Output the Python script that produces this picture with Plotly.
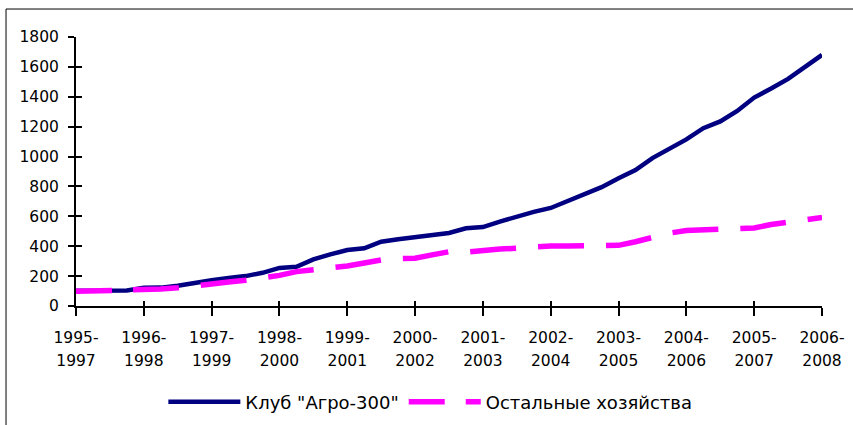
import plotly.graph_objects as go

categories = ["1995-1997", "1996-1998", "1997-1999", "1998-2000", "1999-2001", "2000-2002",
              "2001-2003", "2002-2004", "2003-2005", "2004-2006", "2005-2007", "2006-2008"]

# position of each observation on the category axis (quarterly steps between the labelled periods)
period_pos = [0, 0.25, 0.5, 0.75, 1, 1.25, 1.5, 1.75, 2, 2.25, 2.5, 2.75, 3, 3.25, 3.5, 3.75,
              4, 4.25, 4.5, 4.75, 5, 5.25, 5.5, 5.75, 6, 6.25, 6.5, 6.75, 7, 7.25, 7.5, 7.75,
              8, 8.25, 8.5, 8.75, 9, 9.25, 9.5, 9.75, 10, 10.25, 10.5, 10.75, 11]

club_agro300 = [102, 103, 103, 104, 122, 123, 135, 155, 172, 187, 200, 222, 255, 262, 312, 345,
                375, 386, 430, 447, 461, 475, 489, 520, 528, 565, 601, 630, 656, 703, 750, 795,
                855, 910, 990, 1052, 1115, 1190, 1235, 1305, 1395, 1455, 1520, 1600, 1680]

other_farms = [98, 100, 102, 103, 105, 113, 122, 132, 145, 160, 173, 188, 205, 230, 242, 262,
               268, 288, 308, 317, 320, 342, 363, 361, 375, 381, 387, 398, 401, 401, 404, 404,
               406, 430, 460, 488, 505, 508, 513, 522, 522, 545, 560, 582, 592]

series_names = ['Клуб "Агро-300"', "Остальные хозяйства"]

FONT = "DejaVu Sans, Liberation Sans, Arial, sans-serif"
line1 = [c.split("-")[0] + "-" for c in categories]
line2 = [c.split("-")[1] for c in categories]
tick_idx = list(range(len(categories)))

dash_pattern = "36px,21px," + ",".join(["46px,22px"] * 12)

fig = go.Figure()
fig.add_trace(go.Scatter(x=period_pos, y=club_agro300, name=series_names[0], mode="lines",
                         line=dict(color="#000080", width=4.5), xaxis="x", yaxis="y"))
fig.add_trace(go.Scatter(x=period_pos, y=other_farms, name=series_names[1], mode="lines",
                         line=dict(color="#FF00FF", width=5.5, dash=dash_pattern),
                         xaxis="x2", yaxis="y2"))

common_x = dict(range=[0, 11], tickmode="array", tickvals=tick_idx, showgrid=False,
                zeroline=False, tickcolor="black", tickwidth=2, automargin=False,
                tickfont=dict(family=FONT, size=15.5, color="black"))
common_y = dict(range=[0, 1800], tickmode="array", tickvals=list(range(0, 1801, 200)),
                showgrid=False, zeroline=False, tickcolor="black", tickwidth=2, automargin=False,
                tickfont=dict(family=FONT, size=15.5, color="black"))

fig.update_layout(
    width=853, height=425, autosize=False,
    margin=dict(l=76, r=31, t=37, b=119, autoexpand=False),
    paper_bgcolor="white", plot_bgcolor="white",
    font=dict(family=FONT, color="black"),
    xaxis=dict(**common_x, ticktext=line1, ticks="outside", ticklen=8,
               showline=True, linecolor="black", linewidth=2, ticklabelstandoff=8),
    xaxis2=dict(**common_x, ticktext=line2, ticks="inside", ticklen=5, overlaying="x",
                side="bottom", anchor="y2", showline=False, ticklabelstandoff=43),
    yaxis=dict(**common_y, ticks="outside", ticklen=6, showline=True, linecolor="black",
               linewidth=2, ticklabelstandoff=6),
    yaxis2=dict(**common_y, ticks="inside", ticklen=6, overlaying="y", side="left",
                anchor="x2", showline=False, showticklabels=False),
    showlegend=True,
    legend=dict(orientation="h", x=0.475, xanchor="center", y=-0.357, yanchor="middle",
                itemwidth=72,
                font=dict(family=FONT, size=18, color="black"), bgcolor="rgba(0,0,0,0)"),
    shapes=[
        dict(type="line", xref="paper", yref="paper", x0=-0.0938, x1=1.05, y0=1.104, y1=1.104,
             line=dict(color="black", width=1)),
        dict(type="line", xref="paper", yref="paper", x0=-0.0938, x1=-0.0938, y0=1.104, y1=-0.5,
             line=dict(color="black", width=1)),
    ],
)

fig.write_html("out.html", config={"displayModeBar": False},
               post_script="document.body.style.margin='0';")
